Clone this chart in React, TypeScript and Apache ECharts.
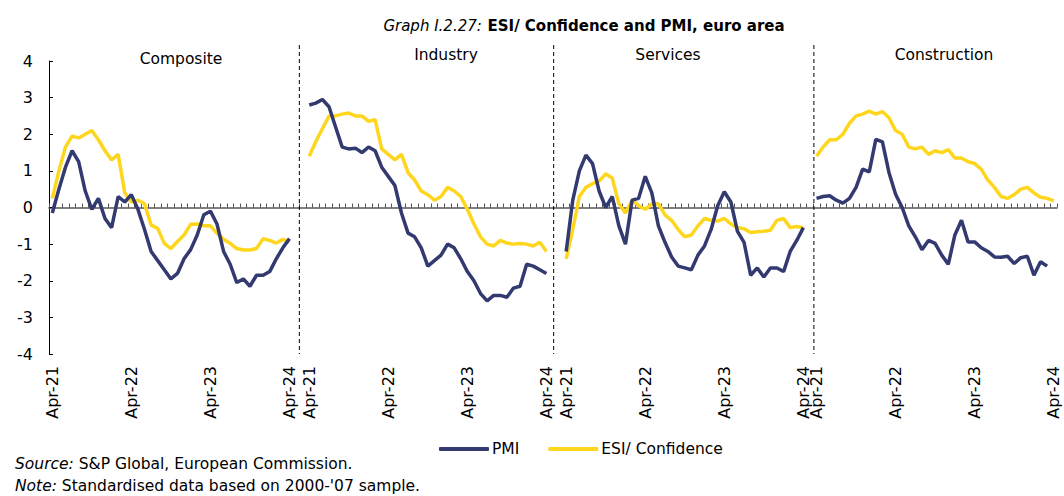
import React, { useEffect, useRef } from "react";
import * as echarts from "echarts";

const panelNames = ["Composite", "Industry", "Services", "Construction"];
const tickLabels = ["Apr-21", "Apr-22", "Apr-23", "Apr-24"];

const compositePMI = [-0.15, 0.5, 1.1, 1.55, 1.25, 0.45, -0.05, 0.25, -0.3, -0.55, 0.3, 0.15, 0.35, -0.05, -0.6, -1.2, -1.45, -1.7, -1.95, -1.8, -1.4, -1.15, -0.75, -0.2, -0.1, -0.45, -1.2, -1.55, -2.05, -1.95, -2.15, -1.85, -1.85, -1.75, -1.4, -1.1, -0.85];
const compositeESI = [0.25, 1.0, 1.65, 1.95, 1.9, 2.0, 2.1, 1.85, 1.55, 1.3, 1.45, 0.4, 0.15, 0.2, 0.1, -0.48, -0.57, -0.98, -1.12, -0.93, -0.75, -0.46, -0.45, -0.5, -0.5, -0.7, -0.87, -0.98, -1.12, -1.16, -1.16, -1.12, -0.85, -0.9, -0.97, -0.87, -0.93];
const industryPMI = [2.8, 2.85, 2.95, 2.75, 2.2, 1.65, 1.6, 1.62, 1.5, 1.65, 1.55, 1.1, 0.85, 0.6, -0.15, -0.7, -0.8, -1.1, -1.6, -1.45, -1.3, -1.0, -1.1, -1.4, -1.75, -2.0, -2.35, -2.55, -2.4, -2.4, -2.45, -2.2, -2.15, -1.55, -1.6, -1.7, -1.8];
const industryESI = [1.4, 1.8, 2.15, 2.5, 2.5, 2.55, 2.58, 2.5, 2.5, 2.35, 2.4, 1.6, 1.45, 1.3, 1.45, 0.95, 0.75, 0.45, 0.35, 0.2, 0.3, 0.55, 0.45, 0.3, -0.05, -0.45, -0.8, -1.0, -1.05, -0.9, -0.97, -1.0, -0.98, -1.0, -1.05, -0.95, -1.2];
const servicesPMI = [-1.2, 0.2, 1.0, 1.43, 1.2, 0.45, 0.0, 0.3, -0.5, -1.0, 0.2, 0.25, 0.85, 0.4, -0.5, -0.95, -1.35, -1.6, -1.65, -1.7, -1.3, -1.05, -0.6, 0.05, 0.43, 0.15, -0.65, -0.95, -1.85, -1.65, -1.9, -1.65, -1.65, -1.75, -1.2, -0.9, -0.55];
const servicesESI = [-1.4, -0.6, 0.3, 0.55, 0.65, 0.72, 0.92, 0.8, 0.1, -0.15, 0.2, 0.05, -0.05, 0.1, 0.1, -0.2, -0.35, -0.6, -0.8, -0.75, -0.5, -0.3, -0.35, -0.37, -0.3, -0.45, -0.55, -0.58, -0.68, -0.66, -0.65, -0.62, -0.35, -0.3, -0.55, -0.52, -0.55];
const constructionPMI = [0.25, 0.3, 0.32, 0.2, 0.12, 0.25, 0.55, 1.05, 0.97, 1.86, 1.79, 0.95, 0.36, 0.0, -0.5, -0.8, -1.15, -0.9, -0.98, -1.3, -1.55, -0.75, -0.35, -0.94, -0.94, -1.1, -1.2, -1.35, -1.36, -1.33, -1.53, -1.37, -1.33, -1.85, -1.48, -1.6, null];
const constructionESI = [1.4, 1.65, 1.85, 1.85, 2.0, 2.3, 2.5, 2.55, 2.63, 2.55, 2.62, 2.45, 2.1, 2.0, 1.65, 1.6, 1.65, 1.45, 1.55, 1.5, 1.58, 1.35, 1.35, 1.25, 1.2, 1.05, 0.75, 0.55, 0.3, 0.25, 0.35, 0.5, 0.55, 0.4, 0.28, 0.25, 0.18];

const pmiPanels = [compositePMI, industryPMI, servicesPMI, constructionPMI];
const esiPanels = [compositeESI, industryESI, servicesESI, constructionESI];
const gapsAfter = [2, 2, 1];
const separators = [38, 76.6, 116.1];

const FONT = "DejaVu Sans";
const NAVY = "#323a70";
const YELLOW = "#ffd61e";

function buildData() {
  const keys: string[] = [];
  const labels: string[] = [];
  const pmi: (number | null)[] = [];
  const esi: (number | null)[] = [];
  pmiPanels.forEach((p, k) => {
    for (let j = 0; j < p.length; j++) {
      keys.push(`${k}-${j}`);
      labels.push(j % 12 === 0 ? tickLabels[j / 12] : "");
      pmi.push(p[j]);
      esi.push(esiPanels[k][j]);
    }
    if (k < gapsAfter.length) {
      for (let g = 0; g < gapsAfter[k]; g++) {
        keys.push(`${k}-gap-${g}`);
        labels.push("");
        pmi.push(null);
        esi.push(null);
      }
    }
  });
  return { keys, labels, pmi, esi };
}

export default function App() {
  const ref = useRef<HTMLDivElement>(null);
  useEffect(() => {
    if (!ref.current) return;
    const chart = echarts.init(ref.current, undefined, { renderer: "svg" });
    const { keys, labels, pmi, esi } = buildData();
    const nCat = keys.length;
    chart.setOption({
      animation: false,
      textStyle: { fontFamily: FONT },
      title: {
        text: "{i|Graph I.2.27:} {b|ESI/ Confidence and PMI, euro area}",
        left: 579,
        top: 12,
        textAlign: "center",
        textStyle: {
          fontWeight: "normal",
          rich: {
            i: { fontFamily: FONT, fontStyle: "italic", fontWeight: "normal", fontSize: 15, color: "#000" },
            b: { fontFamily: FONT, fontWeight: "bold", fontSize: 15, color: "#000" },
          },
        },
      },
      legend: {
        data: ["PMI", "ESI/ Confidence"],
        left: 434,
        top: 436,
        icon: "roundRect",
        itemWidth: 50,
        itemHeight: 4,
        itemGap: 29,
        textStyle: { fontFamily: FONT, fontSize: 15.5, color: "#000", padding: [0, 0, 0, -2] },
      },
      grid: { left: 49, right: 7, top: 61, bottom: 142, containLabel: false },
      xAxis: [
        {
          type: "category",
          data: keys,
          boundaryGap: true,
          position: "bottom",
          axisLine: { show: false, onZero: false },
          axisTick: { show: false },
          axisLabel: {
            interval: (index: number) => labels[index] !== "",
            formatter: (_v: string, index: number) => labels[index],
            rotate: 90,
            margin: 12,
            fontFamily: FONT,
            fontSize: 16,
            color: "#000",
          },
          splitLine: { show: false },
        },
        {
          type: "category",
          data: keys,
          boundaryGap: true,
          position: "bottom",
          axisLine: { show: true, onZero: true, lineStyle: { color: "#555", width: 1.5 } },
          axisTick: { show: true, inside: true, length: 4, interval: 0, lineStyle: { color: "#555", width: 1 } },
          axisLabel: { show: false },
          splitLine: { show: false },
        },
        { type: "value", min: 0, max: nCat, show: false },
      ],
      yAxis: {
        type: "value",
        min: -4,
        max: 4,
        interval: 1,
        axisLine: { show: true, lineStyle: { color: "#000", width: 1 } },
        axisTick: { show: true, inside: true, length: 4, lineStyle: { color: "#000" } },
        axisLabel: { fontFamily: FONT, fontSize: 16, color: "#000", margin: 16 },
        splitLine: { show: false },
      },
      series: [
        {
          name: "PMI",
          type: "line",
          xAxisIndex: 0,
          data: pmi,
          showSymbol: false,
          symbol: "none",
          connectNulls: false,
          lineStyle: { color: NAVY, width: 3.5 },
          itemStyle: { color: NAVY },
          emphasis: { disabled: true },
          z: 3,
        },
        {
          name: "ESI/ Confidence",
          type: "line",
          xAxisIndex: 0,
          data: esi,
          showSymbol: false,
          symbol: "none",
          connectNulls: false,
          lineStyle: { color: YELLOW, width: 3.5 },
          itemStyle: { color: YELLOW },
          emphasis: { disabled: true },
          z: 2,
        },
        { type: "line", xAxisIndex: 2, data: [], silent: true },
      ],
    });

    const yBottom = chart.convertToPixel({ yAxisIndex: 0 }, -4) as number;
    const sepLines = separators.map((s) => {
      const x = chart.convertToPixel({ xAxisIndex: 2 }, s) as number;
      return {
        type: "line",
        silent: true,
        z: 1,
        shape: { x1: x, y1: 45, x2: x, y2: yBottom },
        style: { stroke: "#000", lineWidth: 1, lineDash: [4, 3] },
      };
    });
    const panelPos = [
      [181, 59],
      [446, 55],
      [668, 55],
      [944, 55],
    ];
    const panelTexts = panelNames.map((n, i) => ({
      type: "text",
      silent: true,
      x: panelPos[i][0],
      y: panelPos[i][1],
      style: {
        text: n,
        align: "center",
        verticalAlign: "middle",
        fontFamily: FONT,
        fontSize: 15.5,
        fill: "#000",
      },
    }));
    const footer = [
      { y: 464, t: "{i|Source:} S&P Global, European Commission." },
      { y: 486, t: "{i|Note:} Standardised data based on 2000-'07 sample." },
    ].map((f) => ({
      type: "text",
      silent: true,
      x: 15,
      y: f.y,
      style: {
        text: f.t,
        align: "left",
        verticalAlign: "middle",
        fontFamily: FONT,
        fontSize: 15.5,
        fill: "#000",
        rich: { i: { fontStyle: "italic", fontFamily: FONT, fontSize: 15.5, fill: "#000" } },
      },
    }));
    chart.setOption({ graphic: { elements: [...sepLines, ...panelTexts, ...footer] } });

    return () => chart.dispose();
  }, []);
  return (
    <div
      ref={ref}
      style={{ position: "fixed", left: 0, top: 0, width: 1064, height: 496, background: "#fff" }}
    />
  );
}
